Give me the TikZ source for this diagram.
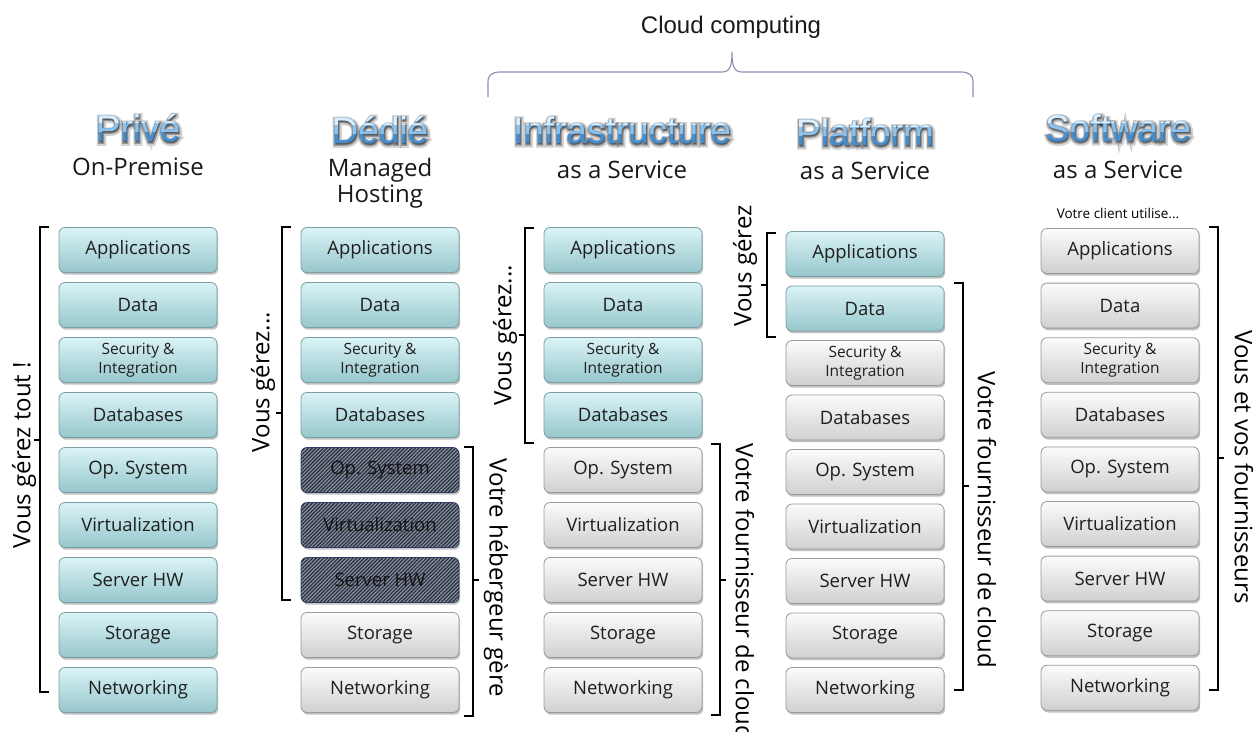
\documentclass[tikz,border=0pt]{standalone}
\usepackage{fontspec}
\setmainfont{Open Sans}
\newfontfamily\titlefont{Liberation Sans}
\newfontfamily\glowA[FakeBold=16]{Liberation Sans}
\newfontfamily\glowB[FakeBold=8]{Liberation Sans}
\usetikzlibrary{shadows,patterns.meta,calc}
\definecolor{tealtop}{HTML}{DAF3F6}
\definecolor{tealbot}{HTML}{96C7CC}
\definecolor{tealdraw}{HTML}{7A9EA3}
\definecolor{greytop}{HTML}{FBFBFB}
\definecolor{greybot}{HTML}{D0D0D0}
\definecolor{greydraw}{HTML}{9A9A9A}
\definecolor{hatchbase}{HTML}{8E96A2}
\definecolor{hatchline}{HTML}{2A3142}
\definecolor{hatchdraw}{HTML}{363F72}
\definecolor{tblue}{HTML}{3F8FD6}
\definecolor{tmid}{HTML}{8CC2EC}
\definecolor{tlight}{HTML}{DCEEFB}
\definecolor{bracecol}{HTML}{8C8CB0}
\tikzset{
  layer/.style={minimum width=158pt, minimum height=45pt, rounded corners=6pt, inner sep=0pt,
    align=center, font=\fontsize{18.5}{20}\selectfont, text=black!88, line width=0.8pt,
    drop shadow={shadow xshift=1.2pt, shadow yshift=-2.2pt, opacity=0.35, fill=black!70}},
  mine/.style={layer, draw=tealdraw, top color=tealtop, bottom color=tealbot},
  prov/.style={layer, draw=greydraw, top color=greytop, bottom color=greybot},
  hatchbox/.style={layer, draw=hatchdraw, fill=hatchbase, text=black!92,
    postaction={pattern={Lines[angle=45,distance=2.6pt,line width=1.3pt]}, pattern color=hatchline}},
  small/.style={font=\fontsize{15.5}{19}\selectfont},
  brk/.style={line width=1.3pt, black},
  vlabel/.style={font=\fontsize{24}{24}\selectfont, inner sep=0pt, text=black},
  subt/.style={font=\fontsize{24}{24}\selectfont, inner sep=0pt, text=black!90},
  glowa/.style={font=\glowA\fontsize{37}{37}\selectfont, inner sep=0pt, text=black, text opacity=0.17},
  glowb/.style={font=\glowB\fontsize{37}{37}\selectfont, inner sep=0pt, text=black, text opacity=0.28},
  btitle/.style={font=\titlefont\fontsize{37}{37}\selectfont, inner sep=0pt},
}
\newcommand\SI{Security \&\\Integration}
\newcommand\bigtitle[4]{%
  \node[glowa] (#1ga) at (#2+1,#3+1.5) {#4};
  \node[glowb] (#1gb) at (#2+0.5,#3+1) {#4};
  \node[btitle, text=tblue] (#1) at (#2,#3) {#4};
  \begin{scope}
    \clip (#2-160,#3-40) rectangle (#2+160,#3+3);
    \node[btitle, text=tmid] (#1m) at (#2,#3) {#4};
  \end{scope}
  \begin{scope}
    \clip (#2-160,#3-40) rectangle (#2+160,#3-6);
    \node[btitle, text=tlight] (#1l) at (#2,#3) {#4};
  \end{scope}}
\newcommand\lbrk[4]{%
  \draw[brk] (#1+9,#2) -- (#1,#2) -- (#1,#3) -- (#1+9,#3);
  \draw[brk] (#1,#4) -- (#1-6,#4);}
\newcommand\rbrk[4]{%
  \draw[brk] (#1-9,#2) -- (#1,#2) -- (#1,#3) -- (#1-9,#3);
  \draw[brk] (#1,#4) -- (#1+6,#4);}
\begin{document}
\begin{tikzpicture}[x=1pt,y=-1pt]
\fill[white] (0,0) rectangle (1255,731);
\useasboundingbox (0,0) rectangle (1255,731);

% Cloud computing brace
\node[font=\titlefont\fontsize{24}{24}\selectfont, text=black!90] (cloud) at (731,27) {Cloud computing};
\draw[bracecol, line width=1.1pt] (488,97) -- (488,82) .. controls (488,75) and (492,72) .. (500,72)
  -- (722,72) .. controls (730,72) and (732,66) .. (732,52)
  .. controls (732,66) and (734,72) .. (742,72) -- (961,72)
  .. controls (969,72) and (973,75) .. (973,82) -- (973,97);

% Titles
\bigtitle{tPrive}{138}{128}{Privé}
\bigtitle{tDedie}{380}{130}{Dédié}
\bigtitle{tIaas}{622}{130}{Infrastructure}
\bigtitle{tPaas}{865}{132}{Platform}
\bigtitle{tSaas}{1118}{128}{Software}
\node[subt] (s1) at (138,167) {On-Premise};
\node[subt] (s2a) at (380,170) {Managed};
\node[subt] (s2b) at (380,197) {Hosting};
\node[subt] (s3) at (622,170) {as a Service};
\node[subt] (s4) at (865,171) {as a Service};
\node[subt] (s5) at (1118,170) {as a Service};
\node[font=\fontsize{13.5}{14}\selectfont, inner sep=0pt] (s5b) at (1118,213) {Votre client utilise...};

% Column 1 : Prive
\node[mine] (a0) at (138,250) {Applications};
\node[mine] (a1) at (138,305) {Data};
\node[mine, small] (a2) at (138,360) {\SI};
\node[mine] (a3) at (138,415) {Databases};
\node[mine] (a4) at (138,470) {Op. System};
\node[mine] (a5) at (138,525) {Virtualization};
\node[mine] (a6) at (138,580) {Server HW};
\node[mine] (a7) at (138,635) {Storage};
\node[mine] (a8) at (138,690) {Networking};

% Column 2 : Dedie
\node[mine] (b0) at (380,250) {Applications};
\node[mine] (b1) at (380,305) {Data};
\node[mine, small] (b2) at (380,360) {\SI};
\node[mine] (b3) at (380,415) {Databases};
\node[hatchbox] (b4) at (380,470) {Op. System};
\node[hatchbox] (b5) at (380,525) {Virtualization};
\node[hatchbox] (b6) at (380,580) {Server HW};
\node[prov] (b7) at (380,635) {Storage};
\node[prov] (b8) at (380,690) {Networking};

% Column 3 : IaaS
\node[mine] (c0) at (623,250) {Applications};
\node[mine] (c1) at (623,305) {Data};
\node[mine, small] (c2) at (623,360) {\SI};
\node[mine] (c3) at (623,415) {Databases};
\node[prov] (c4) at (623,470) {Op. System};
\node[prov] (c5) at (623,525) {Virtualization};
\node[prov] (c6) at (623,580) {Server HW};
\node[prov] (c7) at (623,635) {Storage};
\node[prov] (c8) at (623,690) {Networking};

% Column 4 : PaaS
\node[mine] (d0) at (865,254) {Applications};
\node[mine] (d1) at (865,308.5) {Data};
\node[prov, small] (d2) at (865,363) {\SI};
\node[prov] (d3) at (865,417.5) {Databases};
\node[prov] (d4) at (865,472) {Op. System};
\node[prov] (d5) at (865,526.5) {Virtualization};
\node[prov] (d6) at (865,581) {Server HW};
\node[prov] (d7) at (865,635.5) {Storage};
\node[prov] (d8) at (865,690) {Networking};

% Column 5 : SaaS
\node[prov] (e0) at (1120,251) {Applications};
\node[prov] (e1) at (1120,305.6) {Data};
\node[prov, small] (e2) at (1120,360.2) {\SI};
\node[prov] (e3) at (1120,414.8) {Databases};
\node[prov] (e4) at (1120,469.4) {Op. System};
\node[prov] (e5) at (1120,524) {Virtualization};
\node[prov] (e6) at (1120,578.6) {Server HW};
\node[prov] (e7) at (1120,633.2) {Storage};
\node[prov] (e8) at (1120,687.8) {Networking};

% Brackets and their labels
\lbrk{40}{227}{692}{440}
\node[vlabel, rotate=90] (l1) at (24,455) {Vous gérez tout !};
\lbrk{282}{227}{600}{413}
\node[vlabel, rotate=90] (l2) at (263,382) {Vous gérez...};
\rbrk{473}{447}{716}{580}
\node[vlabel, rotate=-90] (r2) at (496,578) {Votre hébergeur gère};
\lbrk{525}{228}{443}{335}
\node[vlabel, rotate=90] (l3) at (505,335) {Vous gérez...};
\rbrk{720}{444}{715}{580}
\node[vlabel, rotate=-90] (r3) at (745,592) {Votre fournisseur de cloud};
\lbrk{767}{233}{337}{285}
\node[vlabel, rotate=90] (l4) at (745,266) {Vous gérez};
\rbrk{963}{283}{690}{486}
\node[vlabel, rotate=-90] (r4) at (987,520) {Votre fournisseur de cloud};
\rbrk{1218}{227}{690}{458}
\node[vlabel, rotate=-90] (r5) at (1244,467) {Vous et vos fournisseurs};
\end{tikzpicture}
\end{document}
